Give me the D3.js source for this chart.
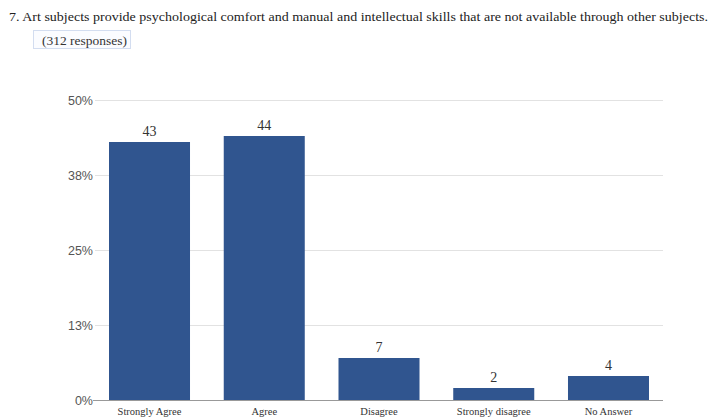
<!DOCTYPE html>
<html>
<head>
<meta charset="utf-8">
<script src="https://cdn.jsdelivr.net/npm/d3@7"></script>
<style>
  html, body { margin: 0; padding: 0; background: #fff; }
  svg { display: block; }
</style>
</head>
<body>
<svg id="chart" width="711" height="418"></svg>
<script>
const title = "7. Art subjects provide psychological comfort and manual and intellectual skills that are not available through other subjects.";
const subtitle = "(312 responses)";
const categories = ["Strongly Agree", "Agree", "Disagree", "Strongly disagree", "No Answer"];
const values = [43, 44, 7, 2, 4];
const tickValues = [0, 12.5, 25, 37.5, 50];
const tickLabels = ["0%", "13%", "25%", "38%", "50%"];

const svg = d3.select("#chart");

// Title
svg.append("text")
  .attr("x", 9).attr("y", 21)
  .attr("font-family", "Liberation Serif, Times New Roman, serif")
  .attr("font-size", 12.5)
  .attr("fill", "#222")
  .attr("textLength", 699)
  .attr("lengthAdjust", "spacingAndGlyphs")
  .text(title);

// Subtitle with box
svg.append("rect")
  .attr("x", 33.5).attr("y", 30.5).attr("width", 97).attr("height", 18)
  .attr("fill", "#fbfcff").attr("stroke", "#d3ddf0").attr("stroke-width", 1);
svg.append("text")
  .attr("x", 42).attr("y", 44.5)
  .attr("font-family", "Liberation Serif, Times New Roman, serif")
  .attr("font-size", 12.5)
  .attr("fill", "#333")
  .attr("textLength", 85)
  .attr("lengthAdjust", "spacingAndGlyphs")
  .text(subtitle);

const x = d3.scaleBand().domain(categories).range([95, 663]).paddingInner(0.294).paddingOuter(0.122);
const y = d3.scaleLinear().domain([0, 50]).range([400, 100]);

// Gridlines
svg.append("g")
  .selectAll("line")
  .data(tickValues.filter(d => d > 0))
  .join("line")
  .attr("x1", 95).attr("x2", 663)
  .attr("y1", d => y(d) + 0.5).attr("y2", d => y(d) + 0.5)
  .attr("stroke", "#e2e2e2").attr("stroke-width", 1);

// Y axis labels
const yAxis = d3.axisLeft(y)
  .tickValues(tickValues)
  .tickFormat((d, i) => tickLabels[i])
  .tickSize(0)
  .tickPadding(2);
const yg = svg.append("g").attr("transform", "translate(95,0)").call(yAxis);
yg.select(".domain").remove();
yg.selectAll("text")
  .attr("font-family", "Liberation Sans, Arial, sans-serif")
  .attr("font-size", 12.5)
  .attr("fill", "#555");

// Bars
svg.append("g")
  .selectAll("rect")
  .data(values)
  .join("rect")
  .attr("x", (d, i) => x(categories[i]))
  .attr("width", x.bandwidth())
  .attr("y", d => y(d))
  .attr("height", d => y(0) - y(d))
  .attr("fill", "#30558f");

// Value labels
svg.append("g")
  .selectAll("text")
  .data(values)
  .join("text")
  .attr("x", (d, i) => x(categories[i]) + x.bandwidth() / 2)
  .attr("y", d => y(d) - 6)
  .attr("text-anchor", "middle")
  .attr("font-family", "Liberation Serif, Times New Roman, serif")
  .attr("font-size", 14)
  .attr("fill", "#333")
  .text(d => d);

// X axis baseline and category labels
const xAxis = d3.axisBottom(x).tickSize(0).tickPadding(0);
const xg = svg.append("g").attr("transform", "translate(0,400)").call(xAxis);
xg.select(".domain").attr("stroke", "#999").attr("d", "M93,0.5H663");
xg.selectAll("text")
  .attr("dy", null)
  .attr("y", 14.5)
  .attr("font-family", "Liberation Serif, Times New Roman, serif")
  .attr("font-size", 10.5)
  .attr("fill", "#333");
</script>
</body>
</html>
